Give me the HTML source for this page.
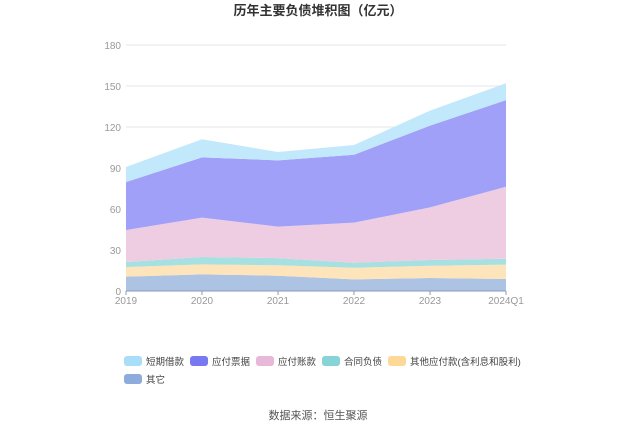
<!DOCTYPE html>
<html><head><meta charset="utf-8"><style>
body{margin:0;background:#fff;font-family:"Liberation Sans","Noto Sans CJK SC",sans-serif}
svg text{font-family:"Liberation Sans","Noto Sans CJK SC",sans-serif}
</style></head><body>
<svg id="c" width="637" height="431" xmlns="http://www.w3.org/2000/svg">
<text x="318" y="15" text-anchor="middle" font-size="13" font-weight="bold" fill="#333">历年主要负债堆积图（亿元）</text>
<g id="grid"></g><g id="areas"></g><g id="axes"></g><g id="legend"></g>
<text x="318" y="419" text-anchor="middle" font-size="11" fill="#555">数据来源：恒生聚源</text>
</svg>
<script>
const categories=["2019","2020","2021","2022","2023","2024Q1"];
const yTicks=[0,30,60,90,120,150,180];
const seriesNames=["其它","其他应付款(含利息和股利)","合同负债","应付账款","应付票据","短期借款"];
const other=[10.5,12.2,11.2,8.5,9.5,8.8];
const otherPayable=[7,7.3,7.6,8.5,9,10.5];
const contract=[3.7,5.4,5.3,3.7,4.2,4.3];
const accountsPayable=[23.4,28.8,23,29.3,38.5,52.7];
const notesPayable=[35.1,44.1,48.5,49.7,59.8,63.4];
const shortLoans=[11,13.2,6.1,7.1,11,12.3];
const seriesData=[other,otherPayable,contract,accountsPayable,notesPayable,shortLoans];
const colors=["#adc3e3","#fde4bb","#a6e0e0","#eecde3","#a0a0f8","#c2e8fb"];
const legendColors=["#8dacdc","#fdd896","#86d4d6","#e8b8d8","#7878f0","#a8def8"];
const names=["other","other-payable","contract-liab","accounts-payable","notes-payable","short-loans"];
const NS="http://www.w3.org/2000/svg";
const x0=126,x1=506,y0=291,y1=45,ymax=180;
const X=i=>x0+(x1-x0)*i/(categories.length-1);
const Y=v=>y0-(y0-y1)*v/ymax;
function mk(t,a,p){const e=document.createElementNS(NS,t);for(const k in a)e.setAttribute(k,a[k]);p.appendChild(e);return e;}
const grid=document.getElementById('grid'),axes=document.getElementById('axes'),areas=document.getElementById('areas'),legend=document.getElementById('legend');
yTicks.forEach(v=>{
 const l=mk('line',{x1:x0,x2:x1,y1:Y(v),y2:Y(v),stroke:'#e6e6e6'},grid);
 
 
 const t=mk('text',{x:x0-5,y:Y(v)+4,'text-anchor':'end','font-size':'10',fill:'#999'},axes);t.textContent=v;
 
 
});
let base=categories.map(()=>0);
seriesData.forEach((s,k)=>{
 const top=base.map((b,i)=>b+s[i]);
 let d='M'+top.map((v,i)=>X(i)+','+Y(v)).join('L');
 for(let i=categories.length-1;i>=0;i--)d+='L'+X(i)+','+Y(base[i]);
 const p=mk('path',{d:d+'Z',fill:colors[k]},areas);
 
 
 base=top;
});
const ax=mk('line',{x1:x0,x2:x1,y1:y0,y2:y0,stroke:'#8a9bb5'},axes);


categories.forEach((c,i)=>{
 mk('line',{x1:X(i),x2:X(i),y1:y0,y2:y0+4,stroke:'#8a9bb5'},axes);
 const t=mk('text',{x:X(i),y:y0+13,'text-anchor':'middle','font-size':'10',fill:'#999'},axes);t.textContent=c;
 
 
});
const order=[5,4,3,2,1,0];
const lx=[124,190,256,322,388,124],ly=[361,361,361,361,361,379];
order.forEach((k,j)=>{
 const g=mk('g',{},legend);
 
 
 mk('rect',{x:lx[j],y:ly[j]-5,width:18,height:10,rx:3,fill:legendColors[k]},g);
 const t=mk('text',{x:lx[j]+22,y:ly[j]+4,'font-size':'9.5',fill:'#444'},g);t.textContent=seriesNames[k];
});
</script>
</body></html>
